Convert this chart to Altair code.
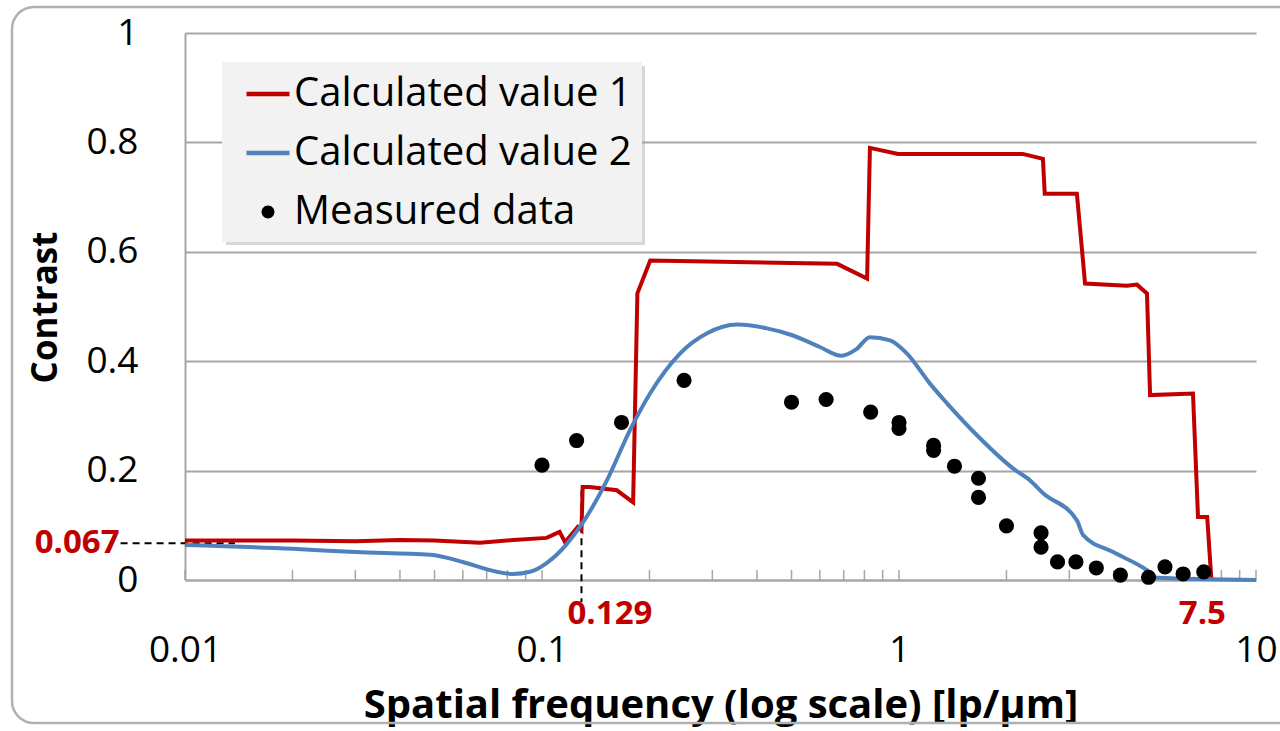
import altair as alt
import pandas as pd

# ---- data -----------------------------------------------------------------
SERIES = ["Calculated value 1", "Calculated value 2", "Measured data"]

CALC1_FREQ = [0.01, 0.02, 0.03, 0.04, 0.05, 0.067, 0.083, 0.103, 0.112, 0.116,
              0.126, 0.129, 0.130, 0.136, 0.162, 0.180, 0.185, 0.201, 0.671,
              0.814, 0.829, 0.994, 2.22, 2.53, 2.56, 3.15, 3.32, 4.35, 4.64,
              4.95, 5.05, 6.66, 6.88, 7.3, 7.5]
CALC1_CONTRAST = [0.072, 0.072, 0.071, 0.073, 0.072, 0.068, 0.073, 0.077, 0.088,
                  0.069, 0.097, 0.091, 0.170, 0.170, 0.164, 0.142, 0.524, 0.584,
                  0.578, 0.551, 0.790, 0.779, 0.779, 0.770, 0.706, 0.706, 0.542,
                  0.538, 0.540, 0.524, 0.338, 0.341, 0.115, 0.115, 0.0]

CALC2_FREQ = [0.01, 0.02, 0.03, 0.0486, 0.060, 0.0715, 0.083, 0.0926, 0.103,
              0.116, 0.1277, 0.152, 0.1764, 0.2007, 0.2435, 0.29, 0.3517, 0.427,
              0.505, 0.60, 0.69, 0.76, 0.829, 0.944, 1.053, 1.221, 1.363, 1.675,
              2.086, 2.33, 2.53, 3.15, 3.28, 3.98, 4.95, 5.28, 10.0]
CALC2_CONTRAST = [0.064, 0.057, 0.051, 0.046, 0.033, 0.018, 0.011, 0.015, 0.031,
                  0.062, 0.097, 0.182, 0.274, 0.341, 0.414, 0.451, 0.467, 0.460,
                  0.447, 0.426, 0.410, 0.422, 0.444, 0.438, 0.414, 0.359, 0.323,
                  0.261, 0.204, 0.182, 0.159, 0.109, 0.082, 0.051, 0.018, 0.004, 0.0]

MEAS_FREQ = [0.1, 0.125, 0.167, 0.25, 0.5, 0.625, 0.833, 1.0, 1.0, 1.25, 1.25,
             1.43, 1.67, 1.67, 2.0, 2.5, 2.5, 2.78, 3.13, 3.57, 4.17, 5.0, 5.56,
             6.25, 7.14]
MEAS_CONTRAST = [0.210, 0.255, 0.288, 0.365, 0.325, 0.330, 0.307, 0.288, 0.277,
                 0.246, 0.237, 0.208, 0.186, 0.151, 0.099, 0.086, 0.060, 0.033,
                 0.033, 0.022, 0.009, 0.005, 0.024, 0.011, 0.015]

X_LABELS = [0.01, 0.1, 1, 10]
Y_LABELS = [0, 0.2, 0.4, 0.6, 0.8, 1.0]
MINOR_TICKS = [k * d for d in (0.01, 0.1, 1) for k in range(1, 10)] + [10]

# annotated values
LOW_FREQ_CONTRAST = 0.067
CROSS_FREQ = 0.129
CUTOFF_FREQ = 7.5

# ---- style ----------------------------------------------------------------
FONT = "Open Sans"
RED = "#c00000"
BLUE = "#4f81bd"
GRID = "#a6a6a6"
W, H = 1071, 547
LEG_X, LEG_Y = 37, 29

# legend glyphs: a short bar for the curves, a small dot for the measurements
LINE_GLYPH = "M-1,-0.1L1,-0.1L1,0.1L-1,0.1Z"
DOT_GLYPH = "M-0.3,0A0.3,0.3,0,1,0,0.3,0A0.3,0.3,0,1,0,-0.3,0Z"

calc1_df = pd.DataFrame({"freq": CALC1_FREQ, "contrast": CALC1_CONTRAST})
calc2_df = pd.DataFrame({"freq": CALC2_FREQ, "contrast": CALC2_CONTRAST})
meas_df = pd.DataFrame({"freq": MEAS_FREQ, "contrast": MEAS_CONTRAST})
key_df = pd.DataFrame({"series": SERIES, "freq": [None] * 3, "contrast": [None] * 3})

x_scale = alt.Scale(type="log", domain=[0.01, 10], nice=False)
y_scale = alt.Scale(domain=[0, 1], nice=False)

x_axis = alt.Axis(
    title="Spatial frequency (log scale) [lp/\u03bcm]", values=X_LABELS, format="~g",
    grid=False, ticks=False, domainColor=GRID, domainWidth=2,
    labelFont=FONT, labelFontSize=37, labelColor="#000", labelPadding=52,
    labelFlush=False, labelOverlap=False,
    titleFont=FONT, titleFontSize=40, titleFontWeight="bold", titleColor="#000",
    titleBaseline="middle", titleY=125,
)
y_axis = alt.Axis(
    title="Contrast", values=Y_LABELS, format="~g",
    grid=True, gridColor=GRID, gridWidth=2, ticks=False,
    domainColor=GRID, domainWidth=2,
    labelFont=FONT, labelFontSize=37, labelColor="#000", labelPadding=47,
    titleFont=FONT, titleFontSize=35, titleFontWeight="bold", titleColor="#000",
    titleAngle=-90, titleBaseline="middle", titleAlign="center",
    titleX=-140, titleY=274,
)

legend = alt.Legend(
    title=None, orient="none", legendX=LEG_X, legendY=LEG_Y,
    fillColor="#f2f2f2", padding=10, rowPadding=17,
    labelFont=FONT, labelFontSize=40, labelColor="#000", labelOffset=4,
    labelLimit=700,
    symbolSize=1850, symbolStrokeWidth=0, symbolOffset=14,
)

one = pd.DataFrame({"k": [0]})

# rounded outer frame
frame = alt.Chart(one).mark_rect(
    fill="transparent", stroke="#b0b0b0", strokeWidth=2.5, cornerRadius=22
).encode(x=alt.value(-173), x2=alt.value(1120), y=alt.value(-26), y2=alt.value(690))

# soft drop shadow under the legend box
shadow = alt.Chart(one).mark_rect(fill="#9a9a9a", opacity=0.4).encode(
    x=alt.value(LEG_X + 4), x2=alt.value(LEG_X + 423),
    y=alt.value(LEG_Y + 4), y2=alt.value(LEG_Y + 183),
)

# inward-pointing log ticks on the x axis
ticks = alt.Chart(pd.DataFrame({"freq": MINOR_TICKS})).mark_rule(
    color=GRID, strokeWidth=1.5
).encode(x=alt.X("freq:Q", scale=x_scale, axis=x_axis), y=alt.value(H), y2=alt.value(H - 10))

X = alt.X("freq:Q", scale=x_scale)
Y = alt.Y("contrast:Q", scale=y_scale, axis=y_axis)

calc1 = alt.Chart(calc1_df).mark_line(strokeWidth=4, color=RED).encode(x=X, y=Y)
calc2 = alt.Chart(calc2_df).mark_line(strokeWidth=4, color=BLUE, interpolate="monotone").encode(x=X, y=Y)
points = alt.Chart(meas_df).mark_point(
    filled=True, size=230, opacity=1, shape="circle", color="#000"
).encode(x=X, y=Y)

# legend-only layer (rows carry no position, so nothing is drawn)
key = alt.Chart(key_df).mark_point(filled=True, opacity=1).encode(
    x=X, y=Y,
    color=alt.Color("series:N", scale=alt.Scale(domain=SERIES, range=[RED, BLUE, "#000000"]),
                    legend=legend),
    shape=alt.Shape("series:N", scale=alt.Scale(domain=SERIES, range=[LINE_GLYPH, LINE_GLYPH, DOT_GLYPH]),
                    legend=legend),
)

# dashed guide lines for the annotated values
hdash = alt.Chart(pd.DataFrame({"x": [0.0066], "x2": [0.0138], "y": [LOW_FREQ_CONTRAST]})).mark_rule(
    color="#000", strokeWidth=2, strokeDash=[7, 5]
).encode(x=alt.X("x:Q", scale=x_scale), x2="x2:Q", y=alt.Y("y:Q", scale=y_scale))
vdash = alt.Chart(pd.DataFrame({"x": [CROSS_FREQ], "y": [0.164], "y2": [-0.04]})).mark_rule(
    color="#000", strokeWidth=2, strokeDash=[7, 5]
).encode(x=alt.X("x:Q", scale=x_scale), y=alt.Y("y:Q", scale=y_scale), y2="y2:Q")

ann_style = dict(font=FONT, fontSize=33, fontWeight="bold", color=RED, baseline="middle")
lbl_low = alt.Chart(pd.DataFrame({"x": [0.0066], "y": [LOW_FREQ_CONTRAST], "t": [f"{LOW_FREQ_CONTRAST:g}"]})).mark_text(
    align="right", dx=-1, **ann_style
).encode(x=alt.X("x:Q", scale=x_scale), y=alt.Y("y:Q", scale=y_scale), text="t:N")
lbl_cross = alt.Chart(pd.DataFrame({"x": [CROSS_FREQ], "y": [-0.062], "t": [f"{CROSS_FREQ:g}"]})).mark_text(
    align="left", dx=-14, **ann_style
).encode(x=alt.X("x:Q", scale=x_scale), y=alt.Y("y:Q", scale=y_scale), text="t:N")
lbl_cut = alt.Chart(pd.DataFrame({"x": [CUTOFF_FREQ], "y": [-0.062], "t": [f"{CUTOFF_FREQ:g}"]})).mark_text(
    align="center", dx=-9, **ann_style
).encode(x=alt.X("x:Q", scale=x_scale), y=alt.Y("y:Q", scale=y_scale), text="t:N")

chart = alt.layer(
    frame, ticks, hdash, vdash, calc1, calc2, points, shadow, key, lbl_low, lbl_cross, lbl_cut
).properties(
    width=W, height=H,
    autosize=alt.AutoSizeParams(type="none"),
    padding={"left": 185, "top": 33, "right": 24, "bottom": 151},
    background="#ffffff",
).configure_view(stroke=None)

chart.save("out.html", embed_options={"renderer": "svg", "actions": False})
